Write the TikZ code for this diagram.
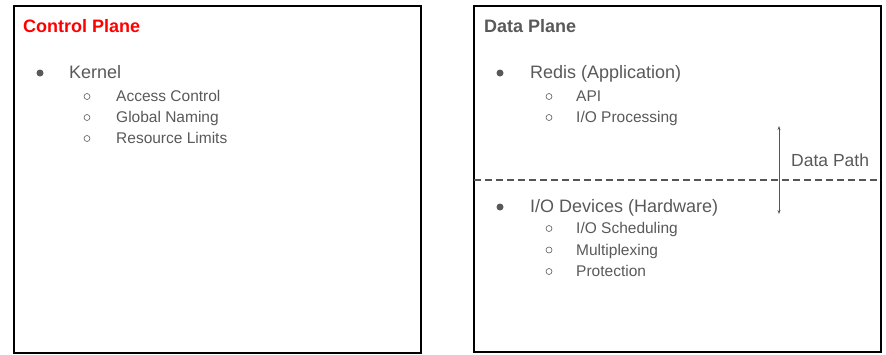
\documentclass[tikz,border=0pt]{standalone}
\usepackage{fontspec}
\setmainfont{Liberation Sans}
\usepackage{tikz}
\usetikzlibrary{positioning, arrows.meta}

\definecolor{textgray}{HTML}{595959}
\definecolor{dashgray}{HTML}{555555}

\tikzset{
  planetitle/.style={anchor=base west, inner sep=0pt, font=\fontsize{18}{20}\selectfont\bfseries},
  topitem/.style={anchor=base west, inner sep=0pt, text=textgray, font=\fontsize{18}{20}\selectfont},
  subitem/.style={anchor=base west, inner sep=0pt, text=textgray, font=\fontsize{15.5}{18}\selectfont},
  dotbullet/.style={circle, fill=textgray, inner sep=0pt, minimum size=7pt},
  ringbullet/.style={circle, draw=textgray, line width=0.6pt, inner sep=0pt, minimum size=6pt},
}

\begin{document}
\begin{tikzpicture}[x=1pt, y=-1pt]
    \useasboundingbox (0,0) rectangle (886,354);

    % the two planes
    \draw [line width=2pt]   (14,6) rectangle (421,353);
    \draw [line width=1.5pt] (474,6) rectangle (881,352);

    % control plane
    \node [planetitle, text=red] (ctltitle) at (23,32) {Control Plane};
    \node [dotbullet]  at (40,73)  {};
    \node [topitem]    (kernel) at (69,78) {Kernel};
    \node [ringbullet] at (87,96.5)  {};
    \node [subitem]    (access) at (116,101.5) {Access Control};
    \node [ringbullet] at (87,117.5) {};
    \node [subitem]    (naming) at (116,122.5) {Global Naming};
    \node [ringbullet] at (87,138.5) {};
    \node [subitem]    (limits) at (116,143.5) {Resource Limits};

    % data plane
    \node [planetitle, text=textgray] (datatitle) at (484,32) {Data Plane};
    \node [dotbullet]  at (500,73)  {};
    \node [topitem]    (redis) at (530,78) {Redis (Application)};
    \node [ringbullet] at (549,96.5)  {};
    \node [subitem]    (api) at (576,101.5) {API};
    \node [ringbullet] at (549,117.5) {};
    \node [subitem]    (ioproc) at (576,122.5) {I/O Processing};

    \draw [dashgray, line width=1.3pt, dash pattern=on 7pt off 4pt] (474,180) -- (881,180);

    \node [dotbullet]  at (500,207) {};
    \node [topitem]    (iodev) at (530,212) {I/O Devices (Hardware)};
    \node [ringbullet] at (549,228.5) {};
    \node [subitem]    (iosched) at (576,233.5) {I/O Scheduling};
    \node [ringbullet] at (549,250) {};
    \node [subitem]    (multi) at (576,255) {Multiplexing};
    \node [ringbullet] at (549,271.5) {};
    \node [subitem]    (protect) at (576,276.5) {Protection};

    % data path arrow
    \coordinate (pathtop) at (779,126);
    \coordinate (pathbot) at (779,214);
    \draw [{Stealth[length=4pt,width=3pt]}-{Stealth[length=4pt,width=3pt]}, line width=0.8pt, draw=dashgray] (pathtop) -- (pathbot);
    \node [topitem, font=\fontsize{17.5}{20}\selectfont] (datapath) at (791,166) {Data Path};
\end{tikzpicture}
\end{document}
